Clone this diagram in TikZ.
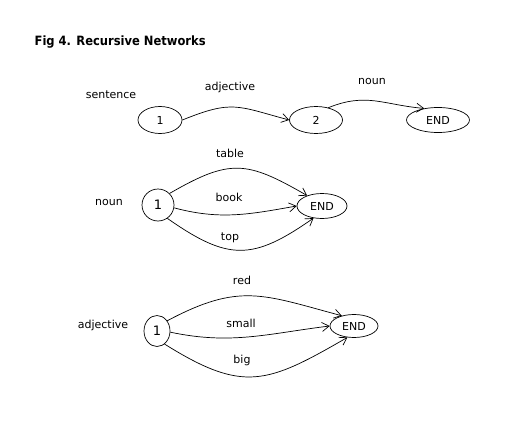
\documentclass[tikz,border=0pt]{standalone}
\usepackage{fontspec}
\setmainfont{DejaVu Sans}
\newfontfamily\titlefont{DejaVu Sans Condensed Bold}
\usetikzlibrary{arrows.meta,shapes.geometric}

\tikzset{
  state/.style = {draw, ellipse, inner sep=0pt, font=\fontsize{11}{13}\selectfont},
  lbl/.style = {font=\fontsize{11}{13}\selectfont},
  arc/.style = {-{Straight Barb[length=7pt,width=9pt]}}
}

\begin{document}
\begin{tikzpicture}[x=1pt,y=-1pt,line width=0.7pt]
\useasboundingbox (0,0) rectangle (517,423);
\node[anchor = west, font=\titlefont\fontsize{12.8}{14}\selectfont] (title) at (31,42) {Fig 4. Recursive Networks};

% sentence network
\node[lbl] (sname) at (111,95) {sentence};
\node[state, minimum width=44pt, minimum height=27pt] (s1) at (160,120) {1};
\node[state, minimum width=53pt, minimum height=27pt] (s2) at (316,120) {2};
\node[state, minimum width=63pt, minimum height=25pt] (send) at (438,120) {END};
\node[lbl] (sadj) at (230,87) {adjective};
\node[lbl] (snoun) at (372,81) {noun};
\draw[arc] (s1.east) to[out=22, in=165, looseness=1.3] (s2.west);
\draw[arc] (s2.45) to[out=22, in=175, looseness=1.1] (send.140);

% noun network
\node[lbl] (nname) at (109,202) {noun};
\node[state, minimum width=32pt, minimum height=32pt] (n1) at (158,205) {\fontsize{13}{15}\selectfont 1};
\node[state, minimum width=50pt, minimum height=25pt] (nend) at (322,206) {END};
\node[lbl] (ntable) at (230,153) {table};
\node[lbl] (nbook) at (229,197) {book};
\node[lbl] (ntop) at (230,238) {top};
\draw[arc] (n1.45) to[out=30, in=150, looseness=1.3] (nend.145);
\draw[arc] (n1.-10) to[out=-15, in=190] (nend.west);
\draw[arc] (n1.-55) to[out=-35, in=-145, looseness=1.3] (nend.-125);

% adjective network
\node[lbl] (aname) at (103,325) {adjective};
\node[state, minimum width=26pt, minimum height=31pt] (a1) at (157,331) {\fontsize{13}{15}\selectfont 1};
\node[state, minimum width=48pt, minimum height=23pt] (aend) at (354,326) {END};
\node[lbl] (ared) at (242,280) {red};
\node[lbl] (asmall) at (241,323) {small};
\node[lbl] (abig) at (242,360) {big};
\draw[arc] (a1.45) to[out=28, in=165, looseness=1.2] (aend.140);
\draw[arc] (a1.-5) to[out=-12, in=187] (aend.west);
\draw[arc] (a1.-60) to[out=-32, in=-150, looseness=1.3] (aend.-120);
\end{tikzpicture}
\end{document}
